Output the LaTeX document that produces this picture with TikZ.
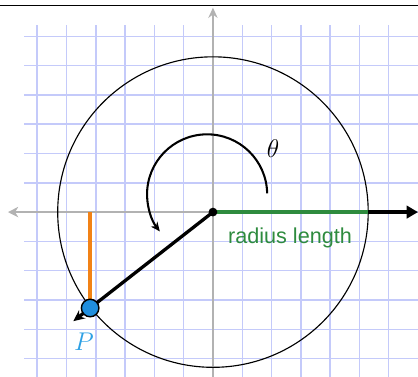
\documentclass[tikz,border=0pt]{standalone}
\usepackage{fontspec}
\setsansfont{Liberation Sans}
\usepackage{tikz}
\usetikzlibrary{arrows.meta,positioning,calc}
\definecolor{cGrid}  {RGB}{196,202,250}
\definecolor{cAxis}  {RGB}{178,178,178}
\definecolor{cRad}   {RGB}{46,139,62}
\definecolor{cSine}  {RGB}{242,130,22}
\definecolor{cPoint} {RGB}{32,142,222}
\definecolor{cPtext} {RGB}{45,160,228}

\begin{document}
\begin{tikzpicture}[
  gridline/.style={cGrid,line width=1.4pt},
  axis/.style={cAxis,line width=2.4pt},
  radline/.style={cRad,line width=3.6pt},
  ray/.style={-{Stealth[length=11pt,width=10pt]},line width=3.2pt,black},
  sine/.style={cSine,line width=4pt},
  thetaarc/.style={-{Stealth[length=9pt,width=8pt]},line width=2pt},
  dot/.style={circle,draw,line width=1.4pt,fill=cPoint,minimum size=17pt,inner sep=0pt},
  lbl/.style={font=\sffamily\fontsize{21}{24}\selectfont,text=cRad},
]
\useasboundingbox (-7.27,-5.63) rectangle (7.0,7.24);
% top rule
\draw[line width=1.1pt] (-7.27,7.06) -- (7.0,7.06);
% grid paper
\foreach \x in {-6,...,6}
  \draw[gridline] (\x,6.38) -- (\x,-5.63);
\foreach \y in {-5,...,6}
  \draw[gridline] (-6.45,\y) -- (7.0,\y);
% axes
\coordinate (O) at (0,0);
\coordinate (xl) at (-7.0,0);
\coordinate (yt) at (0,6.98);
\coordinate (yb) at (0,-5.63);
\coordinate (rim) at (5.3,0);
\coordinate (xr) at (7.0,0);
\draw[axis,-{Stealth[length=10pt,width=10pt,inset=3pt]}] (O) -- (xl);
\draw[axis,-{Stealth[length=10pt,width=9pt]}] (yb) -- (yt);
\draw[line width=3.2pt,-{Triangle[length=11pt,width=12pt]}] (rim) -- (xr);
% unit circle
\draw[line width=1.1pt] (O) circle[radius=5.3];
% radius and ray through P
\draw[radline] (O) -- (rim);
\coordinate (tip) at (218:6.05);
\draw[ray] (O) -- (tip);
\coordinate (Pc) at (218:5.32);
\coordinate (Px) at (Pc |- O);
\draw[sine] (Px) -- (Pc);
\node[dot] (P) at (Pc) {};
\fill (O) circle[radius=0.15];
% angle arc
\coordinate (arcstart) at (1.85,0.64);
\draw[thetaarc] (arcstart) arc[start angle=1,end angle=218,radius=2.05];
% labels
\node[font=\fontsize{25}{29}\selectfont] (theta) at (2.05,2.15) {$\theta$};
\node[lbl] (radlabel) at (2.63,-0.89) {radius length};
\node[text=cPtext,font=\fontsize{25}{29}\selectfont] (Plabel) at (-4.4,-4.44) {$P$};
\end{tikzpicture}
\end{document}
